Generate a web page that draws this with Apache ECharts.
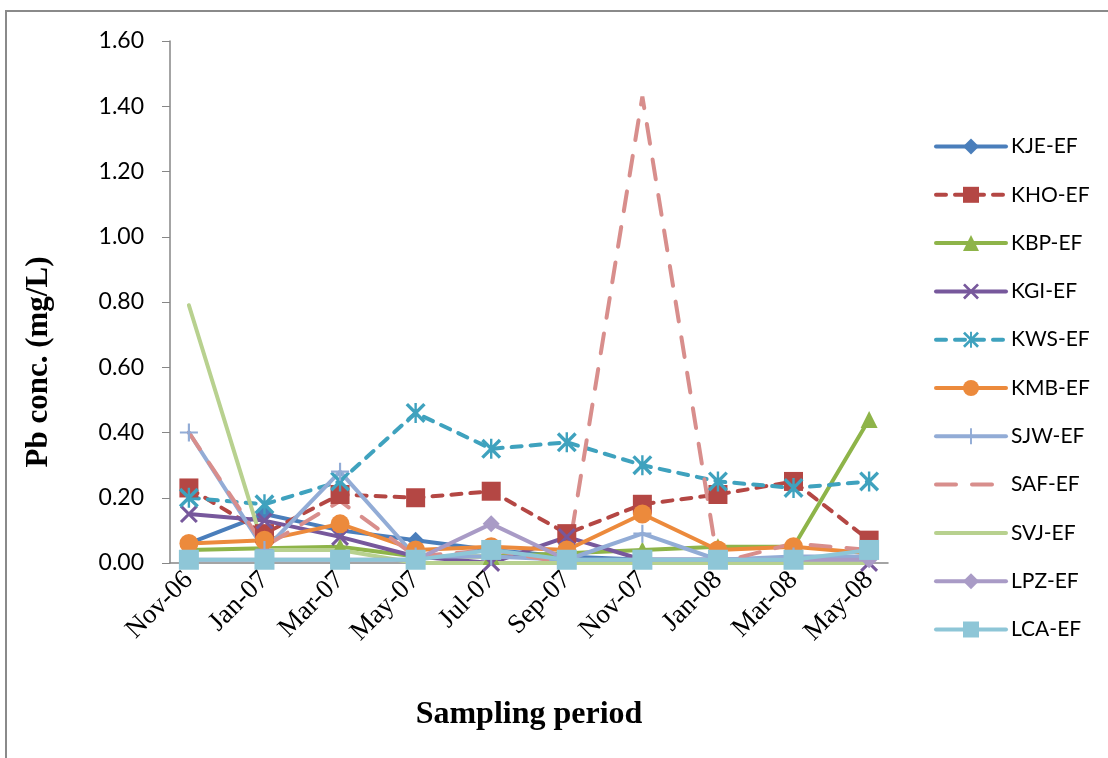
<!DOCTYPE html>
<html>
<head>
<meta charset="utf-8">
<script src="https://cdn.jsdelivr.net/npm/echarts@6/dist/echarts.min.js"></script>
<style>
  html, body { margin: 0; padding: 0; background: #fff; }
  #chart { width: 1108px; height: 758px; }
</style>
</head>
<body>
<div id="chart"></div>
<script>
// monthly slots on the date axis (labels every 2nd month)
var axisMonths = ['Nov-06', 'Dec-06', 'Jan-07', 'Feb-07', 'Mar-07', 'Apr-07', 'May-07', 'Jun-07',
  'Jul-07', 'Aug-07', 'Sep-07', 'Oct-07', 'Nov-07', 'Dec-07', 'Jan-08', 'Feb-08', 'Mar-08', 'Apr-08', 'May-08'];
// sampling dates
var sampleDates = ['Nov-06', 'Jan-07', 'Mar-07', 'May-07', 'Jul-07', 'Sep-07', 'Nov-07', 'Jan-08', 'Mar-08', 'May-08'];

// Pb conc. (mg/L)
var kje = [0.06, 0.15, 0.10, 0.07, 0.04, 0.02, 0.01, 0.01, 0.01, 0.02];
var kho = [0.23, 0.09, 0.21, 0.20, 0.22, 0.09, 0.18, 0.21, 0.25, 0.07];
var kbp = [0.04, 0.045, 0.05, 0.02, 0.02, 0.03, 0.04, 0.05, 0.05, 0.44];
var kgi = [0.15, 0.13, 0.08, 0.02, 0.00, 0.08, 0.01, 0.01, 0.01, 0.00];
var kws = [0.20, 0.18, 0.25, 0.46, 0.35, 0.37, 0.30, 0.25, 0.23, 0.25];
var kmb = [0.06, 0.07, 0.12, 0.04, 0.05, 0.04, 0.15, 0.04, 0.05, 0.03];
var sjw = [0.40, 0.04, 0.28, 0.02, 0.02, 0.01, 0.09, 0.01, 0.02, 0.02];
var saf = [0.40, 0.05, 0.19, 0.02, 0.04, 0.00, 1.43, 0.00, 0.06, 0.04];
var svj = [0.79, 0.04, 0.04, 0.00, 0.00, 0.00, 0.00, 0.00, 0.00, 0.00];
var lpz = [0.01, 0.01, 0.01, 0.01, 0.12, 0.01, 0.01, 0.01, 0.01, 0.01];
var lca = [0.01, 0.01, 0.01, 0.01, 0.04, 0.01, 0.01, 0.01, 0.01, 0.04];

var names = ['KJE-EF', 'KHO-EF', 'KBP-EF', 'KGI-EF', 'KWS-EF', 'KMB-EF', 'SJW-EF', 'SAF-EF', 'SVJ-EF', 'LPZ-EF', 'LCA-EF'];

var symX = 'path://M0,1.2 L1.2,0 L10,8.8 L8.8,10 Z M8.8,0 L10,1.2 L1.2,10 L0,8.8 Z';
var symStar = 'path://M0,1.2 L1.2,0 L10,8.8 L8.8,10 Z M8.8,0 L10,1.2 L1.2,10 L0,8.8 Z M4.4,0 L5.6,0 L5.6,10 L4.4,10 Z';
var symPlus = 'path://M4.4,0 L5.6,0 L5.6,10 L4.4,10 Z M0,4.4 L10,4.4 L10,5.6 L0,5.6 Z';

function mk(name, vals, color, symbol, size, dash) {
  return {
    name: name,
    type: 'line',
    data: sampleDates.map(function (d, i) { return [d, vals[i]]; }),
    symbol: symbol,
    symbolSize: size,
    lineStyle: { color: color, width: 4, type: dash || 'solid', cap: 'round' },
    itemStyle: { color: color },
    emphasis: { disabled: true }
  };
}

var chart = echarts.init(document.getElementById('chart'));
var option = {
  animation: false,
  backgroundColor: '#fff',
  graphic: [{
    type: 'rect',
    shape: { x: 6, y: 11, width: 1120, height: 760 },
    style: { fill: 'none', stroke: '#8a8a8a', lineWidth: 2 }
  }],
  grid: { left: 170, right: 220, top: 41, bottom: 195 },
  legend: {
    orient: 'vertical',
    left: 929,
    top: 131,
    itemWidth: 70,
    itemHeight: 20,
    itemGap: 27.3,
    lineStyle: { width: 4 },
    textStyle: { fontFamily: 'Lato, "Liberation Sans", sans-serif', fontSize: 21, color: '#000' },
    // SAF and SVJ have no markers: hide the legend symbol, keep the line
    data: names.map(function (n) {
      return (n === 'SAF-EF' || n === 'SVJ-EF') ? { name: n, itemStyle: { opacity: 0 } } : { name: n };
    })
  },
  xAxis: {
    type: 'category',
    data: axisMonths,
    boundaryGap: true,
    name: 'Sampling period',
    nameLocation: 'middle',
    nameGap: 136,
    nameTextStyle: { fontFamily: '"Liberation Serif", serif', fontWeight: 'bold', fontSize: 32, color: '#000' },
    axisLine: { lineStyle: { color: '#868686', width: 1.5 } },
    axisTick: { interval: 1, length: 7, lineStyle: { color: '#868686' } },
    axisLabel: {
      interval: 1, rotate: 45, margin: 13,
      fontFamily: '"Liberation Serif", serif', fontSize: 27, color: '#000'
    },
    splitLine: { show: false }
  },
  yAxis: {
    type: 'value',
    min: 0,
    max: 1.6,
    interval: 0.2,
    name: 'Pb conc. (mg/L)',
    nameLocation: 'middle',
    nameGap: 116,
    nameRotate: 90,
    nameTextStyle: {
      fontFamily: '"Liberation Serif", serif', fontWeight: 'bold', fontSize: 31, color: '#000',
      padding: [0, 120, 0, 0]
    },
    axisLine: { show: true, lineStyle: { color: '#868686', width: 1.5 } },
    axisTick: { show: true, length: 8, lineStyle: { color: '#868686' } },
    axisLabel: {
      margin: 26,
      fontFamily: 'Lato, "Liberation Sans", sans-serif', fontSize: 23, color: '#000',
      formatter: function (v) { return v.toFixed(2); }
    },
    splitLine: { show: false }
  },
  series: [
    mk('KJE-EF', kje, '#4A7EBB', 'diamond', 17),
    mk('KHO-EF', kho, '#B44744', 'rect', 19, [10, 9]),
    mk('KBP-EF', kbp, '#8EB449', 'triangle', 17),
    mk('KGI-EF', kgi, '#77589C', symX, 18),
    mk('KWS-EF', kws, '#3FA2BE', symStar, 20, [10, 9]),
    mk('KMB-EF', kmb, '#EC8A3C', 'circle', 19),
    mk('SJW-EF', sjw, '#92ACD6', symPlus, 18),
    mk('SAF-EF', saf, '#D88E8C', 'none', 0, [20, 16]),
    mk('SVJ-EF', svj, '#B8D18F', 'none', 0),
    mk('LPZ-EF', lpz, '#A99BC6', 'diamond', 17),
    mk('LCA-EF', lca, '#8EC6D7', 'rect', 20)
  ]
};
chart.setOption(option);
</script>
</body>
</html>
